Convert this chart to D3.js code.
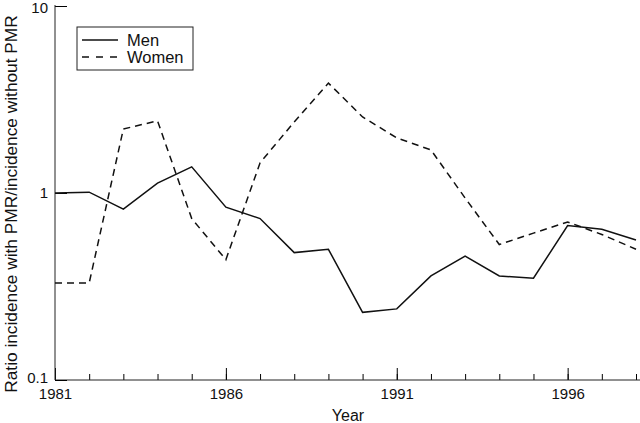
<!DOCTYPE html>
<html>
<head>
<meta charset="utf-8">
<script src="https://cdn.jsdelivr.net/npm/d3@7"></script>
<style>
  body { margin: 0; background: #fff; }
  text { font-family: "Liberation Sans", Arial, Helvetica, sans-serif; fill: #111; }
</style>
</head>
<body>
<script>
// data
var years = [1981, 1982, 1983, 1984, 1985, 1986, 1987, 1988, 1989, 1990, 1991, 1992, 1993, 1994, 1995, 1996, 1997, 1998];
var men   = [1.00, 1.01, 0.82, 1.13, 1.38, 0.84, 0.73, 0.48, 0.50, 0.23, 0.24, 0.36, 0.46, 0.36, 0.35, 0.67, 0.64, 0.56];
var women = [0.33, 0.33, 2.20, 2.43, 0.73, 0.44, 1.45, 2.40, 3.87, 2.55, 1.97, 1.70, 0.94, 0.53, 0.61, 0.70, 0.60, 0.50];
var majorYears = [1981, 1986, 1991, 1996];
var yTicks = [0.1, 1, 10];
var seriesNames = ["Men", "Women"];

var width = 640;
var height = 423;

var svg = d3.select("body")
    .append("svg")
    .attr("width", width)
    .attr("height", height);

var x = d3.scaleLinear().domain([1981, 1998]).range([55, 636]);
var y = d3.scaleLog().domain([0.1, 10]).range([380, 6]);

// x axis: minor ticks every year, longer ticks at labelled years
svg.append("g")
    .attr("transform", "translate(0,380)")
    .call(d3.axisBottom(x).tickValues(years).tickSize(-6).tickFormat(""))
    .call(g => g.select(".domain").remove());

svg.append("g")
    .attr("transform", "translate(0,380)")
    .call(d3.axisBottom(x).tickValues(majorYears).tickSize(-12).tickPadding(8).tickFormat(d3.format("d")))
    .call(g => g.select(".domain").remove())
    .call(g => g.selectAll("text").attr("font-size", 15).attr("fill", "#111"));

svg.append("line")
    .attr("x1", 55).attr("x2", 640)
    .attr("y1", 380).attr("y2", 380)
    .attr("stroke", "#222");

// y axis (log)
svg.append("g")
    .attr("transform", "translate(55,0)")
    .call(d3.axisLeft(y).tickValues(yTicks).tickSize(-12).tickPadding(7).tickFormat(d => d < 1 ? "0.1" : d3.format("d")(d)))
    .call(g => g.select(".domain").remove())
    .call(g => g.selectAll("text").attr("font-size", 15).attr("fill", "#111"))
    .call(g => g.selectAll(".tick text").filter(d => d === 10).attr("dy", "0.4em"))
    .call(g => g.selectAll(".tick text").filter(d => d === 0.1).attr("dy", "0.15em"));

svg.append("line")
    .attr("x1", 55).attr("x2", 55)
    .attr("y1", 5).attr("y2", 380)
    .attr("stroke", "#222");

// axis titles
svg.append("text")
    .attr("x", 348)
    .attr("y", 421)
    .attr("text-anchor", "middle")
    .attr("font-size", 16)
    .text("Year");

svg.append("text")
    .attr("transform", "translate(17,204) rotate(-90)")
    .attr("text-anchor", "middle")
    .attr("font-size", 17.3)
    .text("Ratio incidence with PMR/incidence without PMR");

// lines
var line = d3.line()
    .x((d, i) => x(years[i]))
    .y(d => y(d));

svg.append("path")
    .datum(men)
    .attr("d", line)
    .attr("fill", "none")
    .attr("stroke", "#111")
    .attr("stroke-width", 1.5);

svg.append("path")
    .datum(women)
    .attr("d", line)
    .attr("fill", "none")
    .attr("stroke", "#111")
    .attr("stroke-width", 1.5)
    .attr("stroke-dasharray", "7,5");

// legend
var legend = svg.append("g");
legend.append("rect")
    .attr("x", 77).attr("y", 27)
    .attr("width", 116).attr("height", 43)
    .attr("fill", "#fff")
    .attr("stroke", "#222");

seriesNames.forEach(function(name, i) {
    var ly = 40 + i * 17;
    legend.append("line")
        .attr("x1", 82).attr("x2", 118)
        .attr("y1", ly).attr("y2", ly)
        .attr("stroke", "#111")
        .attr("stroke-width", 1.5)
        .attr("stroke-dasharray", i === 1 ? "7,7" : null);
    legend.append("text")
        .attr("x", 127)
        .attr("y", ly + 6)
        .attr("font-size", 16.5)
        .text(name);
});
</script>
</body>
</html>
